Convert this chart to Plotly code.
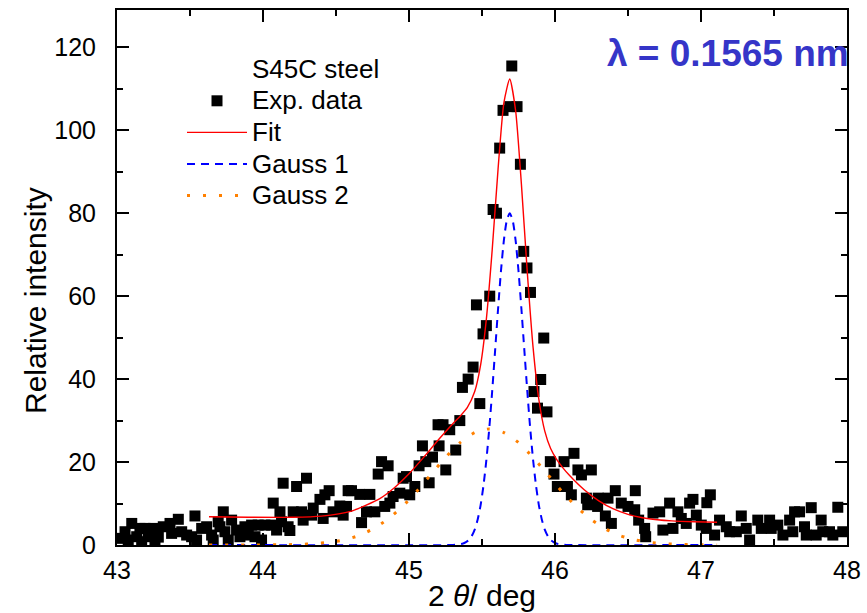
import plotly.graph_objects as go

# ---------------- data ----------------
exp_x = [43.021, 43.055, 43.077, 43.101, 43.135, 43.157, 43.169, 43.192, 43.214, 43.248,
         43.260, 43.283, 43.317, 43.363, 43.374, 43.420, 43.443, 43.477, 43.511, 43.534,
         43.545, 43.580, 43.614, 43.648, 43.659, 43.693, 43.705, 43.728, 43.739, 43.762,
         43.785, 43.819, 43.842, 43.876, 43.899, 43.922, 43.945, 43.967, 43.990, 44.013,
         44.059, 44.070, 44.093, 44.116, 44.127, 44.138, 44.172, 44.184, 44.207, 44.230,
         44.264, 44.275, 44.298, 44.333, 44.344, 44.390, 44.412, 44.424, 44.453, 44.480,
         44.526, 44.549, 44.572, 44.583, 44.606, 44.663, 44.675, 44.709, 44.732, 44.766,
         44.789, 44.812, 44.834, 44.857, 44.869, 44.891, 44.937, 44.960, 44.983, 45.005,
         45.040, 45.069, 45.092, 45.115, 45.138, 45.161, 45.199, 45.206, 45.233, 45.252,
         45.279, 45.320, 45.348, 45.366, 45.405, 45.439, 45.462, 45.485, 45.507, 45.530,
         45.553, 45.576, 45.599, 45.621, 45.644, 45.690, 45.704, 45.740, 45.763, 45.786,
         45.808, 45.832, 45.856, 45.880, 45.902, 45.923, 45.945, 45.968, 45.993, 46.016,
         46.062, 46.085, 46.112, 46.130, 46.157, 46.181, 46.215, 46.224, 46.249, 46.292,
         46.296, 46.345, 46.363, 46.386, 46.413, 46.454, 46.500, 46.546, 46.550, 46.573,
         46.614, 46.621, 46.671, 46.717, 46.739, 46.785, 46.808, 46.842, 46.865, 46.899,
         46.922, 46.945, 46.968, 47.002, 47.036, 47.040, 47.064, 47.093, 47.127, 47.173,
         47.196, 47.242, 47.276, 47.310, 47.333, 47.389, 47.413, 47.470, 47.481, 47.526,
         47.561, 47.607, 47.629, 47.641, 47.675, 47.709, 47.721, 47.755, 47.789, 47.823,
         47.834, 47.880, 47.903, 47.937, 47.971]
exp_y = [1.6, 3.2, 1.2, 5.2, 2.0, 4.0, 0.8, 4.0, 2.0, 4.0,
         0.8, 1.9, 4.4, 5.2, 2.8, 6.2, 3.2, 2.4, 2.0, 7.0,
         1.2, 4.0, 4.4, 2.4, 1.2, 5.6, 4.4, 8.0, 3.2, 1.2,
         6.0, 3.6, 2.0, 4.4, 2.4, 4.8, 2.0, 4.8, 1.2, 4.8,
         4.8, 10.1, 3.6, 8.0, 5.6, 14.9, 4.4, 3.5, 8.0, 14.1,
         8.0, 6.0, 16.1, 7.2, 8.9, 11.0, 6.4, 12.1, 13.1, 8.0,
         9.4, 7.2, 9.3, 13.1, 13.1, 12.2, 5.4, 8.0, 12.2, 8.0,
         17.1, 20.1, 9.3, 19.1, 10.1, 11.7, 12.5, 16.1, 16.5, 12.1,
         14.1, 19.1, 23.9, 20.1, 15.0, 21.2, 29.0, 23.9, 29.0, 18.1,
         27.8, 22.9, 30.0, 38.0, 40.0, 42.9, 57.9, 34.1, 50.9, 52.9,
         60.0, 80.9, 80.0, 95.7, 104.8, 105.7, 115.5, 105.7, 91.8, 70.8,
         66.8, 60.9, 37.0, 33.0, 39.9, 49.9, 32.1, 20.1, 17.1, 14.1,
         20.1, 14.1, 12.1, 22.1, 18.1, 16.9, 11.3, 9.7, 18.1, 9.3,
         11.3, 7.0, 11.3, 5.2, 13.1, 10.1, 9.3, 8.5, 13.1, 6.0,
         4.0, 2.0, 7.7, 8.0, 3.6, 10.1, 4.0, 8.0, 6.4, 5.2,
         10.1, 11.0, 7.2, 4.8, 4.0, 10.2, 12.1, 2.4, 6.0, 4.4,
         3.2, 3.2, 7.0, 4.0, 1.2, 6.0, 4.0, 6.0, 4.0, 4.8,
         2.4, 6.0, 3.2, 8.0, 8.0, 4.4, 2.4, 9.0, 2.4, 6.0,
         3.2, 3.2, 2.4, 9.1, 3.2]

fit_x = [43.63, 43.90, 44.20, 44.40, 44.60, 44.80, 44.90, 45.00, 45.10, 45.20,
         45.30, 45.35, 45.40, 45.45, 45.49, 45.53, 45.57, 45.61, 45.65, 45.69,
         45.73, 45.77, 45.81, 45.85, 45.89, 45.93, 45.97, 46.01, 46.05, 46.10,
         46.20, 46.30, 46.40, 46.50, 46.60, 46.70, 46.80, 46.95, 47.11]
fit_y = [6.80, 6.70, 6.68, 6.96, 8.11, 11.19, 13.81, 17.17, 21.12, 25.30,
         29.23, 31.04, 33.16, 37.00, 43.33, 54.54, 71.23, 90.64, 106.68, 112.36,
         104.81, 86.96, 65.85, 47.59, 34.96, 27.46, 23.25, 20.70, 18.79, 16.75,
         13.31, 10.63, 8.69, 7.39, 6.58, 6.10, 5.82, 5.62, 5.50]

g1_x = [43.63, 45.29, 45.33, 45.37, 45.39, 45.41, 45.43, 45.45, 45.47, 45.49,
        45.51, 45.53, 45.55, 45.57, 45.59, 45.61, 45.63, 45.65, 45.67, 45.69,
        45.71, 45.73, 45.75, 45.77, 45.79, 45.81, 45.83, 45.85, 45.87, 45.89,
        45.91, 45.93, 45.95, 45.97, 45.99, 46.01, 46.05, 46.09, 47.11]
g1_y = [0.0, 0.0, 0.1, 0.35, 0.7, 1.2, 2.2, 3.7, 6.1, 9.5,
        14.3, 20.5, 28.2, 37.2, 47.0, 56.9, 66.1, 73.5, 78.3, 80.0,
        78.3, 73.5, 66.1, 56.9, 47.0, 37.2, 28.2, 20.5, 14.3, 9.5,
        6.1, 3.7, 2.2, 1.2, 0.7, 0.35, 0.1, 0.0, 0.0]

g2_x = [43.63, 43.95, 44.15, 44.25, 44.35, 44.45, 44.55, 44.65, 44.75, 44.85,
        44.95, 45.05, 45.15, 45.25, 45.35, 45.45, 45.55, 45.65, 45.75, 45.85,
        45.95, 46.05, 46.15, 46.25, 46.35, 46.45, 46.55, 46.65, 46.75, 46.85,
        46.95, 47.11]
g2_y = [0.0, 0.01, 0.06, 0.14, 0.31, 0.64, 1.2, 2.2, 3.8, 6.1,
        9.1, 12.8, 17.0, 21.1, 24.7, 27.1, 28.0, 27.1, 24.7, 21.1,
        17.0, 12.8, 9.1, 6.1, 3.8, 2.2, 1.2, 0.64, 0.31, 0.14,
        0.06, 0.01]

x_ticks = [43, 44, 45, 46, 47, 48]
y_ticks = [0, 20, 40, 60, 80, 100, 120]

# ---------------- figure ----------------
FONT = "Liberation Sans, Arial, Helvetica, sans-serif"


def big(t):
    return "<span style='font-size:26px'>" + t + "</span>"


fig = go.Figure()
fig.add_trace(go.Scatter(x=exp_x, y=exp_y, mode="markers", name=big("Exp. data"),
                         marker=dict(symbol="square", size=11, color="black",
                                     line=dict(width=0))))
fig.add_trace(go.Scatter(x=fit_x, y=fit_y, mode="lines", name=big("Fit"),
                         line=dict(color="#ff0000", width=1.4, shape="spline",
                                   smoothing=0.6)))
fig.add_trace(go.Scatter(x=g1_x, y=g1_y, mode="lines", name=big("Gauss 1"),
                         line=dict(color="#0000ff", width=2, dash="8px,6px",
                                   shape="spline", smoothing=0.6)))
fig.add_trace(go.Scatter(x=g2_x, y=g2_y, mode="lines", name=big("Gauss 2"),
                         line=dict(color="#ff8000", width=3, dash="3px,13px",
                                   shape="spline", smoothing=0.6)))

axis_common = dict(showline=True, linecolor="black", linewidth=2, mirror="ticks",
                   ticks="inside", ticklen=12, tickwidth=1.5, tickcolor="black",
                   showgrid=False, zeroline=False, automargin=False,
                   tickfont=dict(family=FONT, size=25, color="black"))

fig.update_xaxes(range=[43, 48], tickmode="array", tickvals=x_ticks,
                 ticktext=[str(v) for v in x_ticks],
                 minor=dict(dtick=0.5, ticks="inside", ticklen=6, tickwidth=1.5,
                            tickcolor="black", showgrid=False),
                 ticklabelstandoff=2,
                 title=dict(text="2 <i>θ</i>/ deg", standoff=2,
                            font=dict(family=FONT, size=30, color="black")),
                 **axis_common)
fig.update_yaxes(range=[0, 129], tickmode="array", tickvals=y_ticks,
                 ticktext=[str(v) for v in y_ticks],
                 minor=dict(dtick=10, ticks="inside", ticklen=6, tickwidth=1.5,
                            tickcolor="black", showgrid=False),
                 ticklabelstandoff=14,
                 **axis_common)

fig.add_annotation(text="Relative intensity", xref="paper", yref="paper",
                   x=(35 - 117) / 730, y=(545 - 301) / 535, xanchor="center", yanchor="middle",
                   textangle=-90, showarrow=False,
                   font=dict(family=FONT, size=30, color="black"))
fig.add_annotation(text="S45C steel", xref="paper", yref="paper",
                   x=(250 - 117) / 730, y=(545 - 69) / 535, xanchor="left", yanchor="middle",
                   showarrow=False, font=dict(family=FONT, size=26, color="black"))
fig.add_annotation(text="<b>λ = 0.1565 nm</b>", xref="paper", yref="paper",
                   x=1.0 + 4 / 730, y=(545 - 54) / 535, xanchor="right", yanchor="middle",
                   showarrow=False, font=dict(family=FONT, size=37, color="#3535c8"))

fig.update_layout(width=867, height=613,
                  margin=dict(l=117, r=20, t=10, b=68),
                  paper_bgcolor="white", plot_bgcolor="white",
                  showlegend=True,
                  legend=dict(x=(182 - 117) / 730, y=(545 - 80) / 535,
                              xanchor="left", yanchor="top",
                              bgcolor="rgba(0,0,0,0)", borderwidth=0,
                              itemwidth=60, tracegroupgap=0,
                              font=dict(family=FONT, size=22, color="black")),
                  font=dict(family=FONT, color="black"))

fig.write_html("out.html")
